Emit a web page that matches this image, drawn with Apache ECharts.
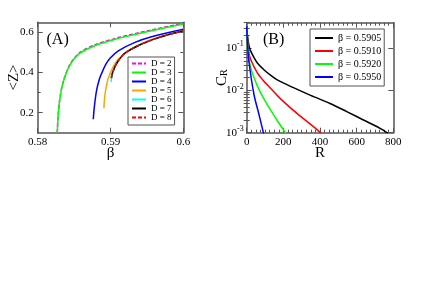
<!DOCTYPE html>
<html><head><meta charset="utf-8">
<script src="https://cdn.jsdelivr.net/npm/echarts@6/dist/echarts.min.js"></script>
<style>html,body{margin:0;padding:0;background:#fff}#c{width:436px;height:308px}</style>
</head><body><div id="c"></div>
<script>
// ---------- Panel A data: <Z> vs beta ----------
const namesA = ['D = 2','D = 3','D = 4','D = 5','D = 6','D = 7','D = 8'];
const betaD2 = [0.58269,0.5828,0.58306,0.58352,0.58443,0.58581,0.5881,0.59034,0.59107,0.59565,0.6];
const zD2    = [0.1,0.18,0.273,0.356,0.44,0.5,0.541,0.566,0.574,0.612,0.645];
const betaD3 = [0.58269,0.5828,0.58306,0.58352,0.58443,0.58581,0.5881,0.59034,0.59107,0.59565,0.6];
const zD3    = [0.1,0.18,0.272,0.354,0.437,0.496,0.537,0.562,0.570,0.608,0.641];
const betaD4 = [0.58763,0.5878,0.5881,0.5885,0.58879,0.58935,0.58993,0.59107,0.59336,0.59565,0.6];
const zD4    = [0.167,0.235,0.313,0.37,0.396,0.44,0.471,0.508,0.550,0.578,0.615];
const betaD5 = [0.5891,0.58918,0.58934,0.58969,0.59038,0.59107,0.5922,0.59336,0.59565,0.6];
const zD5    = [0.222,0.27,0.313,0.371,0.429,0.466,0.5,0.528,0.565,0.608];
const betaD6 = [0.59006,0.5902,0.5904,0.5907,0.5911,0.592,0.594,0.596,0.598,0.6];
const zD6    = [0.352,0.385,0.41,0.435,0.46,0.497,0.537,0.566,0.589,0.608];
const betaD7 = [0.59012,0.5902,0.5904,0.5907,0.5911,0.592,0.594,0.596,0.598,0.6];
const zD7    = [0.372,0.39,0.41,0.435,0.46,0.497,0.537,0.566,0.589,0.608];
const betaD8 = [0.59012,0.5902,0.5904,0.5907,0.5911,0.592,0.594,0.596,0.598,0.6];
const zD8    = [0.372,0.39,0.41,0.435,0.46,0.497,0.537,0.566,0.589,0.608];
const colorsA = ['#ff00ff','#00ff00','#0000ff','#ffa500','#00ffff','#000000','#ff0000'];
const dashedA = [true,false,false,false,false,false,true];
const xTicksA = [0.58,0.59,0.6];
const yTicksA = [0.2,0.4,0.6];
const yMinorA = [0.3,0.5];

// ---------- Panel B data: C_R vs R ----------
const namesB = ['β = 0.5905','β = 0.5910','β = 0.5920','β = 0.5950'];
const rB1 = [0,4,10,16,22,40,58,94,130,167,258,349,455,546,637,728,770];
const cB1 = [0.33,0.2,0.132,0.1,0.085,0.06,0.0447,0.0309,0.0229,0.0177,0.01145,0.00762,0.00492,0.00316,0.0020,0.00127,0.00098];
const rB2 = [0,4,10,22,58,94,130,182,273,364,405];
const cB2 = [0.33,0.18,0.085,0.054,0.026,0.0165,0.0113,0.0065,0.0029,0.00139,0.00098];
const rB3 = [0,4,10,22,58,94,130,170,211,216];
const cB3 = [0.33,0.15,0.07,0.0341,0.0128,0.0063,0.00345,0.00184,0.001,0.00093];
const rB4 = [0,4,12,40,67,91,94];
const cB4 = [0.33,0.14,0.049,0.0079,0.0027,0.001,0.00085];
const colorsB = ['#000000','#ff0000','#00ff00','#0000ff'];
const yTicksB = [0.001,0.01,0.1];
const yMinorB = [0.002,0.003,0.004,0.005,0.006,0.007,0.008,0.009,0.02,0.03,0.04,0.05,0.06,0.07,0.08,0.09,0.2,0.3,0.4];

const FONT = 'Liberation Serif';
const AX = '#555';
const zip = (a,b) => a.map((v,i)=>[v,b[i]]);

const seriesA = [[betaD2,zD2],[betaD3,zD3],[betaD4,zD4],[betaD5,zD5],[betaD6,zD6],[betaD7,zD7],[betaD8,zD8]].map((p,i)=>({
  name: namesA[i], type:'line', xAxisIndex:0, yAxisIndex:0, data: zip(p[0],p[1]),
  symbol:'none', showSymbol:false, smooth:0.3, animation:false,
  lineStyle:{color:colorsA[i], width:1.5, type: dashedA[i] ? [4,2] : 'solid'},
  itemStyle:{color:colorsA[i]}
}));
const seriesB = [[rB1,cB1],[rB2,cB2],[rB3,cB3],[rB4,cB4]].map((p,i)=>({
  name: namesB[i], type:'line', xAxisIndex:2, yAxisIndex:4, data: zip(p[0],p[1]),
  symbol:'none', showSymbol:false, smooth:0.3, animation:false,
  lineStyle:{color:colorsB[i], width:1.5},
  itemStyle:{color:colorsB[i]}
}));

const lbl = {color:'#000', fontFamily:FONT, fontSize:11};
function frameAxis(extra){
  return Object.assign({
    axisLine:{show:true, onZero:false, lineStyle:{color:AX, width:1.5}},
    splitLine:{show:false}, nameMoveOverlap:false
  }, extra);
}

const option = {
  animation:false,
  grid:[
    {left:37.7, top:22.3, width:145.6, height:110.4, outerBoundsMode:'none'},
    {left:246.7, top:22.7, width:146.6, height:110, outerBoundsMode:'none'}
  ],
  xAxis:[
    frameAxis({type:'value', gridIndex:0, position:'bottom', min:0.58, max:0.6, interval:0.01,
      name:'β', nameLocation:'middle', nameGap:13, nameTextStyle:{fontFamily:FONT, fontSize:15, color:'#000'},
      axisTick:{inside:true, length:5, customValues:xTicksA, lineStyle:{color:AX}},
      axisLabel:{customValues:xTicksA, margin:4, ...lbl}}),
    frameAxis({type:'value', gridIndex:0, position:'top', min:0.58, max:0.6, interval:0.01,
      axisTick:{inside:true, length:5, customValues:xTicksA, lineStyle:{color:AX}},
      axisLabel:{show:false}}),
    frameAxis({type:'value', gridIndex:1, position:'bottom', min:0, max:800, interval:200,
      name:'R', nameLocation:'middle', nameGap:13, nameTextStyle:{fontFamily:FONT, fontSize:15, color:'#000'},
      axisTick:{inside:true, length:5, lineStyle:{color:AX}},
      minorTick:{show:true, splitNumber:8, length:3, lineStyle:{color:AX}},
      axisLabel:{margin:4, ...lbl}}),
    frameAxis({type:'value', gridIndex:1, position:'top', min:0, max:800, interval:200,
      axisTick:{inside:true, length:5, lineStyle:{color:AX}},
      minorTick:{show:true, splitNumber:8, length:3, lineStyle:{color:AX}},
      axisLabel:{show:false}})
  ],
  yAxis:[
    frameAxis({type:'value', gridIndex:0, position:'left', min:0.1, max:0.65,
      name:'<Z>', nameLocation:'middle', nameGap:16, nameRotate:90,
      nameTextStyle:{fontFamily:FONT, fontSize:15, color:'#000'},
      axisTick:{inside:true, length:5, customValues:yTicksA, lineStyle:{color:AX}},
      axisLabel:{customValues:yTicksA, margin:4, ...lbl}}),
    frameAxis({type:'value', gridIndex:0, position:'right', min:0.1, max:0.65,
      axisTick:{inside:true, length:5, customValues:yTicksA, lineStyle:{color:AX}},
      axisLabel:{show:false}}),
    {type:'value', gridIndex:0, position:'left', min:0.1, max:0.65, axisLine:{show:false}, splitLine:{show:false},
      axisTick:{show:true, inside:true, length:3, customValues:yMinorA, lineStyle:{color:AX}}, axisLabel:{show:false}},
    {type:'value', gridIndex:0, position:'right', min:0.1, max:0.65, axisLine:{show:false}, splitLine:{show:false},
      axisTick:{show:true, inside:true, length:3, customValues:yMinorA, lineStyle:{color:AX}}, axisLabel:{show:false}},
    frameAxis({type:'log', gridIndex:1, position:'left', min:0.001, max:0.4, logBase:10,
      name:'{c|C}{s|R}', nameLocation:'middle', nameGap:17, nameRotate:90,
      nameTextStyle:{fontFamily:FONT, color:'#000', rich:{
        c:{fontFamily:FONT, fontSize:15, color:'#000'},
        s:{fontFamily:FONT, fontSize:10, color:'#000', padding:[6,0,0,0]}}},
      axisTick:{inside:true, length:5, customValues:yTicksB, lineStyle:{color:AX}},
      axisLabel:{customValues:yTicksB, margin:3,
        formatter:(v)=>'{b|10}{s|'+Math.round(Math.log10(v))+'}',
        rich:{b:{fontFamily:FONT, fontSize:11, color:'#000'},
              s:{fontFamily:FONT, fontSize:8, color:'#000', padding:[0,0,8,0]}}}}),
    frameAxis({type:'log', gridIndex:1, position:'right', min:0.001, max:0.4, logBase:10,
      axisTick:{inside:true, length:5, customValues:yTicksB, lineStyle:{color:AX}},
      axisLabel:{show:false}}),
    {type:'log', gridIndex:1, position:'left', min:0.001, max:0.4, logBase:10, axisLine:{show:false}, splitLine:{show:false},
      axisTick:{show:true, inside:true, length:3, customValues:yMinorB, lineStyle:{color:AX}}, axisLabel:{show:false}},
    {type:'log', gridIndex:1, position:'right', min:0.001, max:0.4, logBase:10, axisLine:{show:false}, splitLine:{show:false},
      axisTick:{show:true, inside:true, length:3, customValues:yMinorB, lineStyle:{color:AX}}, axisLabel:{show:false}}
  ],
  legend:[
    {data:namesA, orient:'vertical', left:128, top:57, padding:[2,3,3,3], itemWidth:14, itemHeight:9, itemGap:0,
     selectedMode:false, borderColor:AX, borderWidth:1, backgroundColor:'#fff',
     itemStyle:{opacity:0},
     textStyle:{fontFamily:FONT, fontSize:9, lineHeight:9, color:'#000'}},
    {data:namesB, orient:'vertical', left:310, top:29, padding:[4,3,4,4], itemWidth:18, itemHeight:10, itemGap:3,
     selectedMode:false, borderColor:AX, borderWidth:1, backgroundColor:'#fff',
     itemStyle:{opacity:0},
     textStyle:{fontFamily:FONT, fontSize:10, lineHeight:10, color:'#000'}}
  ],
  graphic:[
    {type:'text', left:46.5, top:32, style:{text:'(A)', fontFamily:FONT, fontSize:16, fill:'#000'}},
    {type:'text', left:263, top:32, style:{text:'(B)', fontFamily:FONT, fontSize:16, fill:'#000'}}
  ],
  series:[...seriesA, ...seriesB]
};
const chart = echarts.init(document.getElementById('c'), null, {renderer:'canvas'});
chart.setOption(option);
</script></body></html>
